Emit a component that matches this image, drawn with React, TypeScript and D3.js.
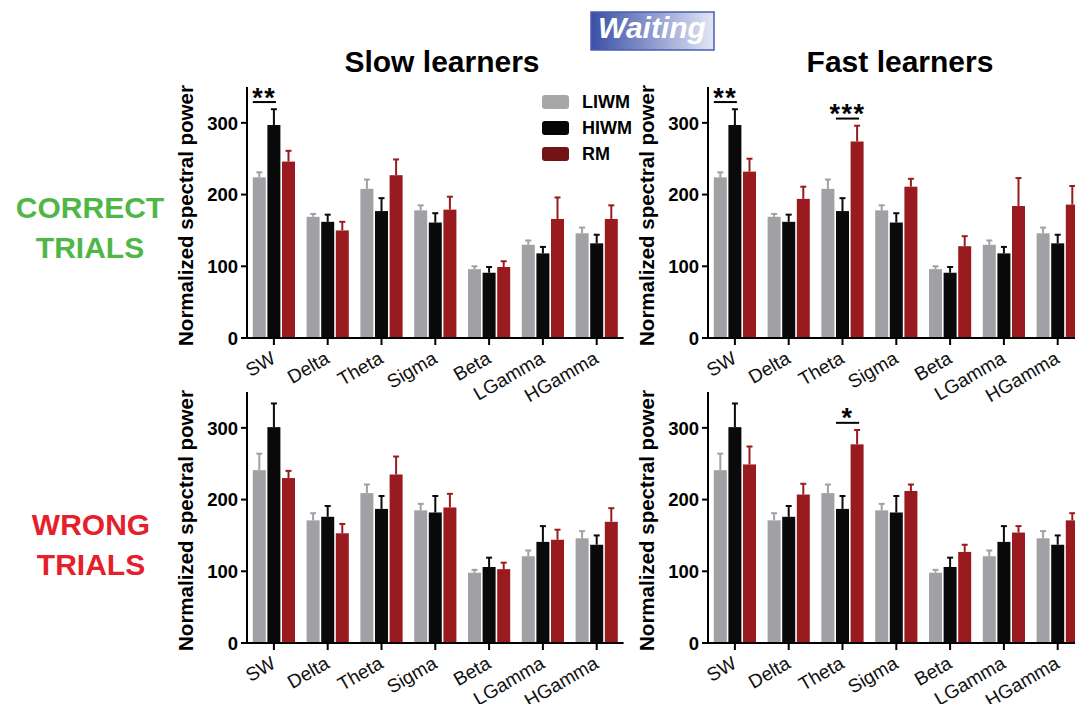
import React from 'react';
import * as d3 from 'd3';

const categories = ['SW', 'Delta', 'Theta', 'Sigma', 'Beta', 'LGamma', 'HGamma'];
const seriesNames = ['LIWM', 'HIWM', 'RM'];
const yTicks = [0, 100, 200, 300];

// Correct trials — slow learners
const correctSlowLIWM = [224, 169, 208, 178, 96, 130, 146];
const correctSlowLIWMErr = [7, 4, 13, 7, 4, 6, 8];
const correctSlowHIWM = [297, 162, 177, 161, 91, 118, 132];
const correctSlowHIWMErr = [22, 10, 18, 13, 8, 9, 12];
const correctSlowRM = [246, 150, 227, 179, 99, 166, 166];
const correctSlowRMErr = [15, 12, 22, 18, 8, 30, 19];

// Correct trials — fast learners
const correctFastLIWM = [224, 169, 208, 178, 96, 130, 146];
const correctFastLIWMErr = [7, 4, 13, 7, 4, 6, 8];
const correctFastHIWM = [297, 162, 177, 161, 91, 118, 132];
const correctFastHIWMErr = [22, 10, 18, 13, 8, 9, 12];
const correctFastRM = [232, 194, 274, 211, 128, 184, 186];
const correctFastRMErr = [18, 17, 22, 11, 14, 39, 26];

// Wrong trials — slow learners
const wrongSlowLIWM = [241, 171, 209, 185, 98, 121, 146];
const wrongSlowLIWMErr = [23, 10, 12, 9, 4, 8, 10];
const wrongSlowHIWM = [301, 176, 187, 182, 106, 141, 137];
const wrongSlowHIWMErr = [33, 15, 18, 23, 13, 22, 13];
const wrongSlowRM = [230, 153, 235, 189, 103, 144, 169];
const wrongSlowRMErr = [10, 13, 25, 19, 9, 14, 19];

// Wrong trials — fast learners
const wrongFastLIWM = [241, 171, 209, 185, 98, 121, 146];
const wrongFastLIWMErr = [23, 10, 12, 9, 4, 8, 10];
const wrongFastHIWM = [301, 176, 187, 182, 106, 141, 137];
const wrongFastHIWMErr = [33, 15, 18, 23, 13, 22, 13];
const wrongFastRM = [249, 207, 277, 212, 127, 154, 171];
const wrongFastRMErr = [25, 15, 20, 9, 10, 9, 10];

// significance markers: [category, firstSeries, secondSeries, label]
const sigCorrectSlow = [['SW', 0, 1, '**']];
const sigCorrectFast = [['SW', 0, 1, '**'], ['Theta', 1, 2, '***']];
const sigWrongSlow: any[] = [];
const sigWrongFast = [['Theta', 1, 2, '*']];

const barColors = ['#a1a1a5', '#0a0a0a', '#9a1b1f'];
const legendColors = ['#a7a7aa', '#050505', '#741316'];
const FONT = '"Liberation Sans", Arial, Helvetica, sans-serif';

const panels = [
  { x0: 247, y0: 338, top: 87, means: [correctSlowLIWM, correctSlowHIWM, correctSlowRM], errs: [correctSlowLIWMErr, correctSlowHIWMErr, correctSlowRMErr], sig: sigCorrectSlow },
  { x0: 708, y0: 338, top: 87, means: [correctFastLIWM, correctFastHIWM, correctFastRM], errs: [correctFastLIWMErr, correctFastHIWMErr, correctFastRMErr], sig: sigCorrectFast },
  { x0: 247, y0: 643, top: 392, means: [wrongSlowLIWM, wrongSlowHIWM, wrongSlowRM], errs: [wrongSlowLIWMErr, wrongSlowHIWMErr, wrongSlowRMErr], sig: sigWrongSlow },
  { x0: 708, y0: 643, top: 392, means: [wrongFastLIWM, wrongFastHIWM, wrongFastRM], errs: [wrongFastLIWMErr, wrongFastHIWMErr, wrongFastRMErr], sig: sigWrongFast },
];

function Panel({ p }: { p: any }) {
  const band = 53.8;
  const x = d3.scaleBand().domain(categories).range([p.x0, p.x0 + band * categories.length]).paddingInner(0).paddingOuter(0);
  const y = d3.scaleLinear().domain([0, 350]).range([p.y0, p.top]);
  const barW = 13;
  const step = 14.6;
  const barX = (cat: string, s: number) => (x(cat) as number) + band / 2 + (s - 1) * step - barW / 2;
  const elems: any[] = [];
  p.means.forEach((arr: number[], s: number) => {
    arr.forEach((v, i) => {
      const cat = categories[i];
      const bx = barX(cat, s);
      const top = y(v);
      const et = y(v + p.errs[s][i]);
      const cx = bx + barW / 2;
      elems.push(<rect key={`b${s}-${i}`} x={bx} y={top} width={barW} height={p.y0 - top} fill={barColors[s]} />);
      elems.push(<line key={`e${s}-${i}`} x1={cx} x2={cx} y1={top} y2={et} stroke={barColors[s]} strokeWidth={2} />);
      elems.push(<line key={`c${s}-${i}`} x1={cx - 3} x2={cx + 3} y1={et} y2={et} stroke={barColors[s]} strokeWidth={2} />);
    });
  });
  const sigEls = p.sig.map((sg: any, k: number) => {
    const [cat, a, b, label] = sg;
    const i = categories.indexOf(cat);
    const maxTop = Math.max(p.means[a][i] + p.errs[a][i], p.means[b][i] + p.errs[b][i]);
    const ly = y(maxTop + 10);
    const xa = barX(cat, a);
    const xb = barX(cat, b) + barW / 2 + 2;
    return (
      <g key={`s${k}`}>
        <line x1={xa} x2={xb} y1={ly} y2={ly} stroke="#000" strokeWidth={2} />
        <text x={(xa + xb) / 2} y={ly + 4.5} textAnchor="middle" fontFamily={FONT} fontWeight="bold" fontSize={27} letterSpacing={1.5}>{label}</text>
      </g>
    );
  });
  const xEnd = p.x0 + band * categories.length;
  return (
    <g>
      {elems}
      {sigEls}
      <line x1={p.x0} x2={p.x0} y1={p.top} y2={p.y0 + 1} stroke="#000" strokeWidth={2} />
      <line x1={p.x0 - 1} x2={xEnd} y1={p.y0} y2={p.y0} stroke="#000" strokeWidth={2} />
      {yTicks.map((t) => (
        <g key={`yt${t}`}>
          <line x1={p.x0 - 6} x2={p.x0} y1={y(t)} y2={y(t)} stroke="#000" strokeWidth={2} />
          <text x={p.x0 - 9} y={y(t)} dy="0.36em" textAnchor="end" fontFamily={FONT} fontWeight="bold" fontSize={18.5}>{t}</text>
        </g>
      ))}
      {categories.map((c) => {
        const cx = (x(c) as number) + band / 2;
        return (
          <g key={`xt${c}`}>
            <line x1={cx} x2={cx} y1={p.y0} y2={p.y0 + 7} stroke="#000" strokeWidth={2} />
            <text transform={`translate(${cx + 3},${p.y0 + 24}) rotate(-30)`} textAnchor="end" fontFamily={FONT} fontSize={19} fill="#111">{c}</text>
          </g>
        );
      })}
      <text transform={`translate(${p.x0 - 54},${(p.top + p.y0) / 2 + 3}) rotate(-90)`} textAnchor="middle" fontFamily={FONT} fontWeight="bold" fontSize={20.5}>Normalized spectral power</text>
    </g>
  );
}

export default function App() {
  return (
    <svg width={1075} height={704} style={{ position: 'absolute', left: 0, top: 0, background: '#fff' }}>
      <defs>
        <linearGradient id="waitGrad" x1="0" x2="1" y1="0" y2="0">
          <stop offset="0" stopColor="#3a4fa6" />
          <stop offset="1" stopColor="#e2e6f5" />
        </linearGradient>
      </defs>
      <rect x={0} y={0} width={1075} height={704} fill="#fff" />
      <rect x={591} y={12} width={123} height={38} fill="url(#waitGrad)" stroke="#4a5db0" strokeWidth={1.5} />
      <text x={652} y={38} textAnchor="middle" fontFamily={FONT} fontWeight="bold" fontStyle="italic" fontSize={30} fill="#fff">Waiting</text>
      <text x={442} y={72} textAnchor="middle" fontFamily={FONT} fontWeight="bold" fontSize={30}>Slow learners</text>
      <text x={900} y={72} textAnchor="middle" fontFamily={FONT} fontWeight="bold" fontSize={30}>Fast learners</text>
      <text x={90} y={218} textAnchor="middle" fontFamily={FONT} fontWeight="bold" fontSize={30} fill="#4fb748">CORRECT</text>
      <text x={90} y={258} textAnchor="middle" fontFamily={FONT} fontWeight="bold" fontSize={30} fill="#4fb748">TRIALS</text>
      <text x={91} y={535} textAnchor="middle" fontFamily={FONT} fontWeight="bold" fontSize={30} fill="#e5202a">WRONG</text>
      <text x={91} y={575} textAnchor="middle" fontFamily={FONT} fontWeight="bold" fontSize={30} fill="#e5202a">TRIALS</text>
      {panels.map((p, i) => <Panel key={i} p={p} />)}
      {seriesNames.map((s, i) => (
        <g key={`lg${s}`}>
          <rect x={542} y={95 + i * 26} width={27} height={14} rx={3} fill={legendColors[i]} />
          <text x={582} y={108 + i * 26} fontFamily={FONT} fontWeight="bold" fontSize={18}>{s}</text>
        </g>
      ))}
    </svg>
  );
}
